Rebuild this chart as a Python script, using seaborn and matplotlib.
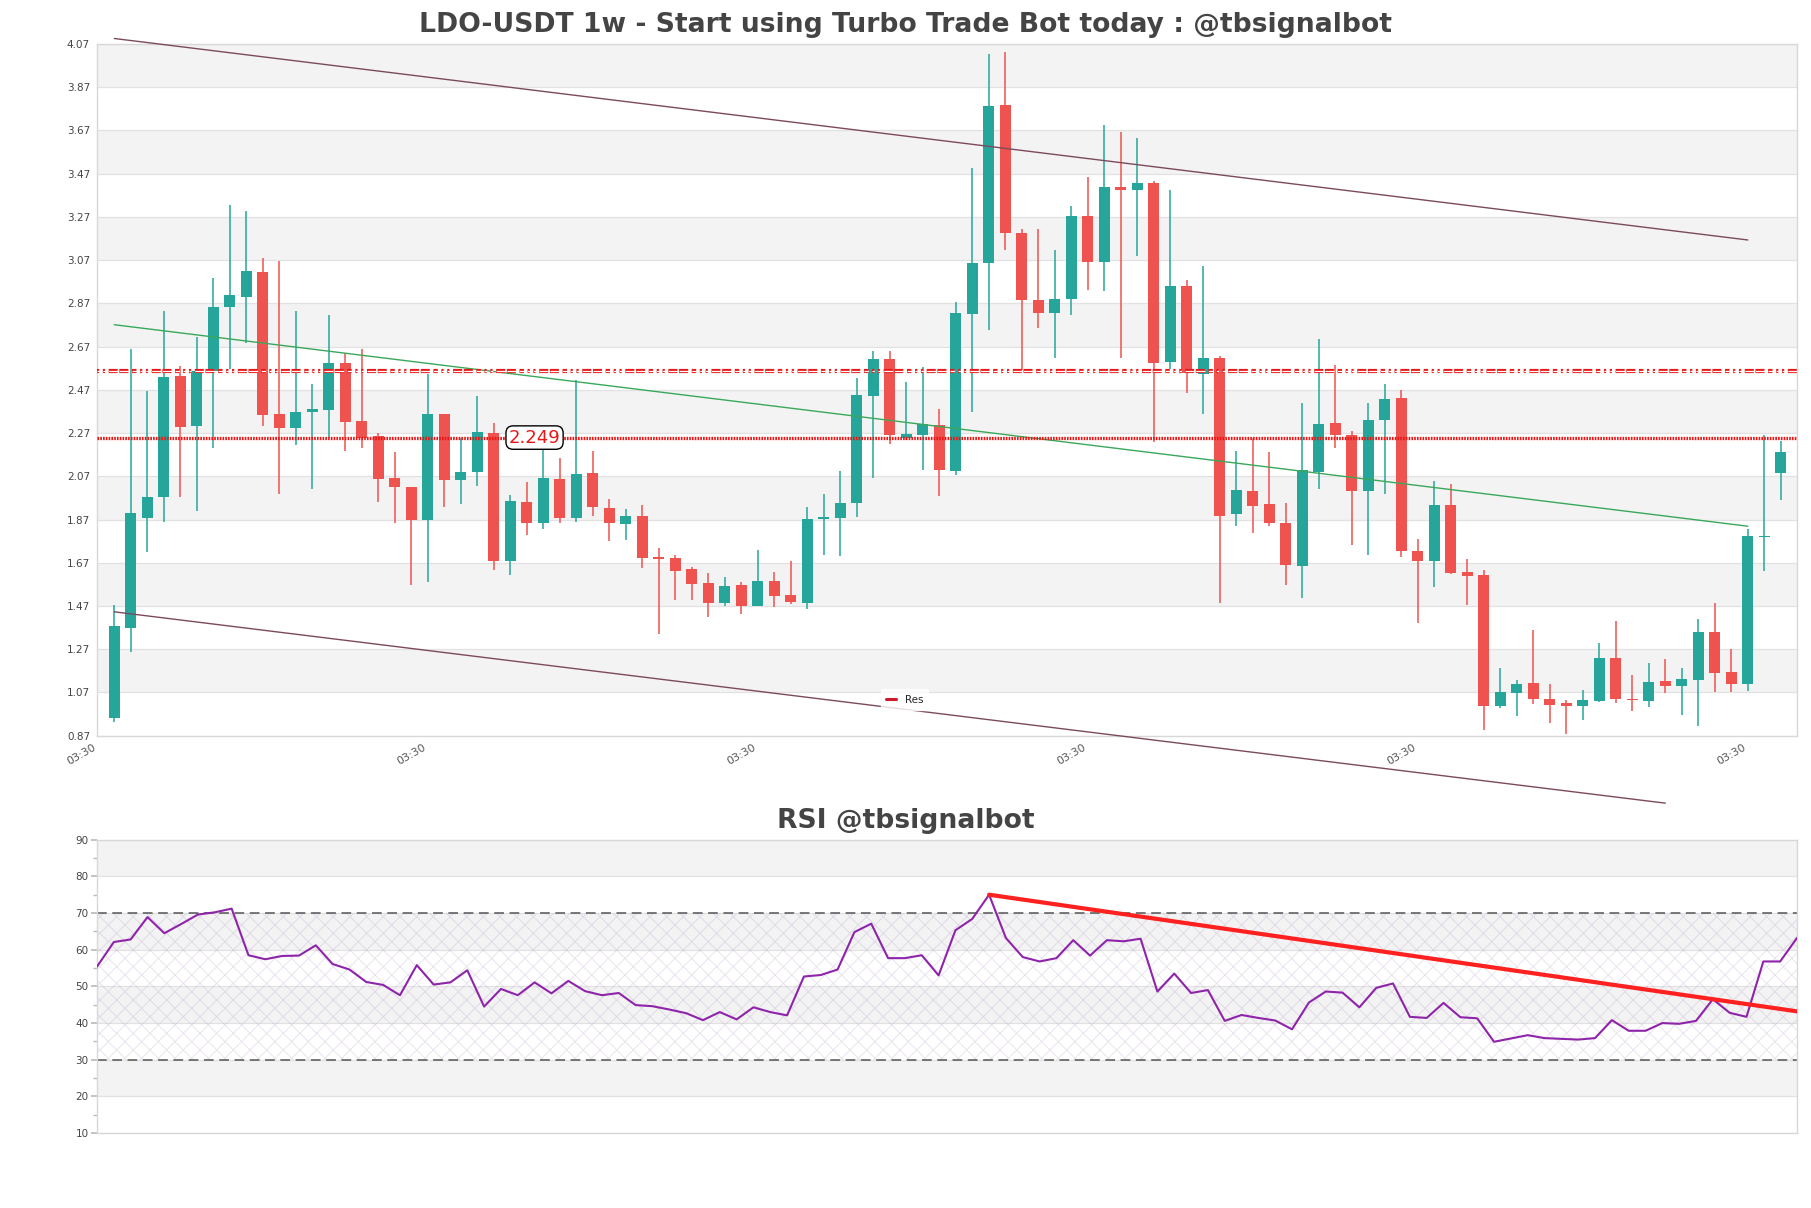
import numpy as np
import pandas as pd
import matplotlib
matplotlib.use("Agg")
import matplotlib.pyplot as plt
import seaborn as sns
from matplotlib.lines import Line2D

# ---------------- data ----------------
opens = [0.951, 1.367, 1.877, 1.973, 2.532, 2.303, 2.555, 2.854, 2.898, 3.013,
         2.358, 2.295, 2.365, 2.375, 2.593, 2.326, 2.256, 2.063, 2.019, 1.869,
         2.358, 2.051, 2.089, 2.269, 1.676, 1.951, 1.852, 2.057, 1.877, 2.085,
         1.924, 1.850, 1.888, 1.697, 1.691, 1.640, 1.578, 1.485, 1.568, 1.468,
         1.587, 1.521, 1.485, 1.871, 1.877, 1.945, 2.443, 2.612, 2.248, 2.263,
         2.307, 2.096, 2.820, 3.057, 3.788, 3.195, 2.884, 2.826, 2.890, 3.276,
         3.059, 3.409, 3.392, 3.428, 2.600, 2.951, 2.545, 2.619, 1.896, 2.002,
         1.941, 1.852, 1.655, 2.089, 2.316, 2.259, 2.000, 2.328, 2.432, 1.723,
         1.680, 1.937, 1.627, 1.612, 1.006, 1.068, 1.114, 1.040, 1.019, 1.006,
         1.030, 1.231, 1.040, 1.030, 1.123, 1.098, 1.129, 1.348, 1.163, 1.110,
         1.790, 2.083]
highs = [1.475, 2.657, 2.464, 2.833, 2.581, 2.716, 2.989, 3.326, 3.295, 3.078,
         3.064, 2.833, 2.496, 2.814, 2.638, 2.661, 2.269, 2.184, 2.020, 2.545,
         2.360, 2.248, 2.443, 2.316, 1.983, 2.042, 2.216, 2.153, 2.517, 2.189,
         1.966, 1.920, 1.937, 1.739, 1.708, 1.651, 1.623, 1.606, 1.581, 1.729,
         1.627, 1.676, 1.930, 1.987, 2.093, 2.523, 2.651, 2.651, 2.506, 2.576,
         2.379, 2.877, 3.498, 4.023, 4.032, 3.212, 3.216, 3.117, 3.322, 3.456,
         3.695, 3.663, 3.636, 3.434, 3.396, 2.979, 3.042, 2.625, 2.189, 2.248,
         2.184, 1.947, 2.407, 2.703, 2.585, 2.280, 2.407, 2.498, 2.470, 1.782,
         2.047, 2.032, 1.687, 1.638, 1.182, 1.129, 1.358, 1.108, 1.036, 1.083,
         1.299, 1.401, 1.151, 1.204, 1.227, 1.182, 1.411, 1.485, 1.273, 1.828,
         2.259, 2.233]
lows = [0.935, 1.256, 1.718, 1.860, 1.973, 1.909, 2.199, 2.566, 2.687, 2.301,
        1.987, 2.216, 2.009, 2.248, 2.189, 2.201, 1.951, 1.856, 1.566, 1.581,
        1.926, 1.941, 2.023, 1.638, 1.612, 1.797, 1.824, 1.856, 1.860, 1.884,
        1.771, 1.775, 1.644, 1.341, 1.500, 1.500, 1.417, 1.470, 1.432, 1.468,
        1.464, 1.479, 1.458, 1.708, 1.703, 1.882, 2.064, 2.220, 2.240, 2.100,
        1.977, 2.074, 2.369, 2.746, 3.117, 2.562, 2.756, 2.619, 2.816, 2.932,
        2.926, 2.619, 3.089, 2.227, 2.566, 2.456, 2.360, 1.485, 1.839, 1.809,
        1.839, 1.566, 1.506, 2.009, 2.201, 1.750, 1.708, 1.987, 1.697, 1.390,
        1.559, 1.617, 1.475, 0.896, 0.996, 0.962, 1.015, 0.930, 0.877, 0.941,
        1.026, 1.019, 0.983, 1.004, 1.066, 0.966, 0.917, 1.070, 1.070, 1.078,
        1.634, 1.958]
closes = [1.379, 1.898, 1.973, 2.528, 2.299, 2.559, 2.852, 2.907, 3.021, 2.354,
          2.295, 2.369, 2.379, 2.593, 2.322, 2.248, 2.057, 2.019, 1.867, 2.358,
          2.051, 2.089, 2.273, 1.676, 1.956, 1.852, 2.062, 1.877, 2.081, 1.926,
          1.852, 1.884, 1.691, 1.689, 1.634, 1.574, 1.485, 1.564, 1.468, 1.587,
          1.517, 1.489, 1.873, 1.881, 1.947, 2.445, 2.612, 2.259, 2.265, 2.312,
          2.100, 2.826, 3.057, 3.782, 3.195, 2.884, 2.826, 2.890, 3.276, 3.059,
          3.409, 3.392, 3.428, 2.595, 2.951, 2.549, 2.619, 1.884, 2.006, 1.934,
          1.852, 1.659, 2.100, 2.312, 2.259, 2.000, 2.328, 2.426, 1.723, 1.680,
          1.937, 1.623, 1.608, 1.006, 1.072, 1.108, 1.040, 1.013, 1.006, 1.034,
          1.231, 1.040, 1.034, 1.119, 1.098, 1.131, 1.348, 1.161, 1.110, 1.792,
          1.794, 2.180]
rsi = [55.4, 62.1, 62.8, 68.9, 64.5, 67.0, 69.6, 70.2, 71.2, 58.5,
       57.4, 58.3, 58.4, 61.2, 56.1, 54.6, 51.2, 50.4, 47.6, 55.8,
       50.5, 51.1, 54.4, 44.5, 49.3, 47.6, 51.1, 48.1, 51.5, 48.7,
       47.6, 48.2, 44.9, 44.6, 43.7, 42.7, 40.8, 43.0, 41.0, 44.3,
       43.0, 42.1, 52.7, 53.1, 54.6, 64.8, 67.1, 57.7, 57.7, 58.5,
       53.0, 65.3, 68.4, 75.0, 63.2, 58.0, 56.8, 57.7, 62.6, 58.4,
       62.6, 62.3, 63.0, 48.6, 53.5, 48.2, 49.0, 40.6, 42.2, 41.4,
       40.7, 38.3, 45.6, 48.6, 48.3, 44.3, 49.6, 50.8, 41.7, 41.4,
       45.5, 41.6, 41.3, 34.9, 35.8, 36.7, 35.9, 35.7, 35.5, 35.9,
       40.8, 37.9, 37.9, 40.0, 39.8, 40.6, 46.5, 42.8, 41.7, 56.8,
       56.8, 63.2]

price_ticks = [0.87, 1.07, 1.27, 1.47, 1.67, 1.87, 2.07, 2.27, 2.47, 2.67,
               2.87, 3.07, 3.27, 3.47, 3.67, 3.87, 4.07]
rsi_ticks = [10, 20, 30, 40, 50, 60, 70, 80, 90]
x_tick_pos = [-1, 19, 39, 59, 79, 99]
x_tick_labels = ["03:30"] * 6

upper_channel = ([0, 99], [4.095, 3.163])
lower_channel = ([0, 94], [1.443, 0.558])
mid_trend = ([0, 99], [2.771, 1.839])
res_level = 2.559
cur_level = 2.249
rsi_trend = ([53, 101], [75.0, 43.2])

title_main = "LDO-USDT 1w - Start using Turbo Trade Bot today : @tbsignalbot"
title_rsi = "RSI @tbsignalbot"

# ---------------- style ----------------
sns.set_theme(style="white")
plt.rcParams['font.family'] = ['DejaVu Sans']
plt.rcParams['lines.scale_dashes'] = False
plt.rcParams['hatch.linewidth'] = 0.7

W, H = 1811, 1208
fig = plt.figure(figsize=(W / 100, H / 100), dpi=100)
ax = fig.add_axes([97 / W, 1 - 735.7 / H, 1700 / W, 691.8 / H])
ax2 = fig.add_axes([97 / W, 1 - 1133.1 / H, 1700 / W, 293.4 / H])

df = pd.DataFrame({"i": np.arange(len(opens)), "open": opens, "high": highs,
                   "low": lows, "close": closes})
UP, DOWN = "#26a69a", "#ef5350"
df["color"] = np.where(df.close >= df.open, UP, DOWN)
df["bottom"] = np.minimum(df.open, df.close)
df["height"] = np.maximum((df.close - df.open).abs(), 0.006)

band = "#f3f3f3"
grid = "#e2e2e2"
# price background bands
for k in range(len(price_ticks) - 1):
    if (len(price_ticks) - 2 - k) % 2 == 0:
        ax.axhspan(price_ticks[k], price_ticks[k + 1], color=band, lw=0, zorder=0)
for t in price_ticks:
    ax.axhline(t, color=grid, lw=0.9, zorder=0.5)

ax.vlines(df.i, df.low, df.high, colors=df.color, lw=1.1, zorder=2)
ax.bar(df.i, df.height, bottom=df.bottom, width=0.68, color=df.color,
       lw=0, zorder=3)

line_c = "#7b4a5c"
ax.plot(*upper_channel, color=line_c, lw=1.0, zorder=4, clip_on=False)
ax.plot(*lower_channel, color=line_c, lw=1.0, zorder=4, clip_on=False)
ax.plot(*mid_trend, color="#3aa85a", lw=1.0, zorder=4)

res_pattern = (0, (1.6, 2.6, 1.6, 2.6, 6.5, 1.2, 6.5, 2.6, 3.2, 2.6))
ax.axhline(res_level, color="#e81818", lw=3.0, ls=res_pattern, zorder=4)
ax.axhline(res_level, color="white", lw=0.9, ls=res_pattern, zorder=4.5)
ax.axhline(cur_level, color="#e81818", lw=2.4, ls=(0, (1.2, 0.8)), zorder=4)
ax.text(23.9, cur_level, "2.249", color="#e81818", fontsize=13, va="center",
        ha="left", zorder=6,
        bbox=dict(boxstyle="round,pad=0.15,rounding_size=0.4", fc="white",
                  ec="black", lw=1))

ax.set_xlim(-1.05, 101.98)
ax.set_ylim(0.87, 4.07)
ax.set_yticks(price_ticks)
ax.set_yticklabels([f"{t:.2f}" for t in price_ticks], fontsize=7.5, color="#444444")
ax.set_xticks(x_tick_pos)
ax.set_xticklabels(x_tick_labels, rotation=30, ha="right", fontsize=8,
                   color="#555555")
ax.tick_params(axis="both", length=3, color="#bbbbbb", pad=2)
for s in ax.spines.values():
    s.set_color("#d8d8d8")
    s.set_linewidth(1)
leg = ax.legend(handles=[Line2D([], [], color="#d01a2a", lw=2.2)], labels=["Res"],
                loc="lower center", bbox_to_anchor=(0.475, 0.03), fontsize=7.5,
                frameon=True, handlelength=1.0, borderpad=0.5, fancybox=True)
leg.get_frame().set_facecolor("white")
leg.get_frame().set_edgecolor("white")

fig.text(0.5, 1 - 25 / H, title_main, ha="center", va="center", fontsize=19.2,
         fontweight="bold", color="#444444")

# ---------------- RSI ----------------
for k in range(len(rsi_ticks) - 1):
    if k % 2 == 1:
        ax2.axhspan(rsi_ticks[k], rsi_ticks[k + 1], color=band, lw=0, zorder=0)
for t in rsi_ticks:
    ax2.axhline(t, color=grid, lw=0.9, zorder=0.5)
ax2.axhspan(30, 70, facecolor="none", hatch="xx", edgecolor=(0.62, 0.5, 0.72, 0.22),
            lw=0, zorder=1)
ax2.axhline(70, color="#555555", lw=1.1, ls=(0, (7, 4)), zorder=2)
ax2.axhline(30, color="#555555", lw=1.1, ls=(0, (7, 4)), zorder=2)

rdf = pd.DataFrame({"i": np.arange(len(rsi)), "rsi": rsi})
sns.lineplot(data=rdf, x="i", y="rsi", ax=ax2, color="#8e24aa", lw=1.5, zorder=3)
ax2.plot(*rsi_trend, color="#ff2020", lw=3.0, zorder=4)

ax2.set_xlim(0, len(rsi) - 1)
ax2.set_ylim(10, 90)
ax2.set_yticks(rsi_ticks)
ax2.set_yticklabels([str(t) for t in rsi_ticks], fontsize=7.5, color="#444444")
ax2.set_yticks([15, 25, 35, 45, 55, 65, 75, 85], minor=True)
ax2.set_xticks([])
ax2.set_xlabel("")
ax2.set_ylabel("")
ax2.tick_params(axis="y", which="major", length=4, color="#bbbbbb", pad=2, left=True)
ax2.tick_params(axis="y", which="minor", length=3, color="#bbbbbb", left=True)
for s in ax2.spines.values():
    s.set_color("#d8d8d8")
    s.set_linewidth(1)

fig.text(0.5, 1 - 821 / H, title_rsi, ha="center", va="center", fontsize=19.2,
         fontweight="bold", color="#444444")

fig.savefig("out.png", dpi=100)
